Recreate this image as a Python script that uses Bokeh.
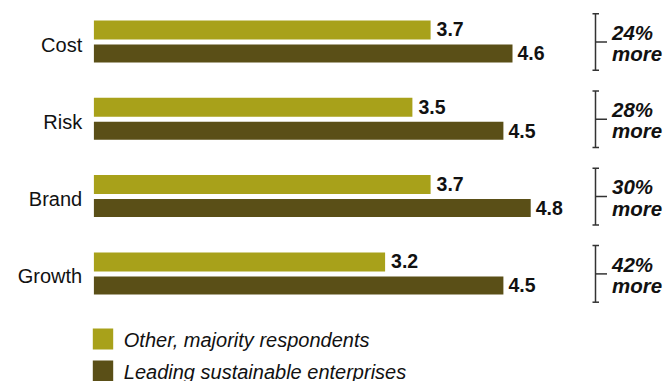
from bokeh.plotting import figure
from bokeh.models import Range1d
from bokeh.core.properties import value
from bokeh.embed import file_html
from bokeh.resources import INLINE

# ---- data ----
categories = ["Cost", "Risk", "Brand", "Growth"]
other_majority = [3.7, 3.5, 3.7, 3.2]
leading_sustainable = [4.6, 4.5, 4.8, 4.5]
pct_more = ["24%", "28%", "30%", "42%"]
series_names = ["Other, majority respondents", "Leading sustainable enterprises"]
series_colors = ["#A8A11A", "#5A4F17"]

# ---- layout helpers ----
W, H = 668, 381
X0 = 93.4      # screen px of value 0
PPU = 91.0     # px per unit


def xv(px):
    return (px - X0) / PPU


CAT_TOP, CAT_STEP = 41.5, 77.3
centers = [CAT_TOP + i * CAT_STEP for i in range(len(categories))]
light_y = [c - 12.0 for c in centers]
dark_y = [c + 11.5 for c in centers]

FONT = value("Liberation Sans")
TXT = "#111111"

p = figure(width=W, height=H, x_range=Range1d(xv(0), xv(W)), y_range=Range1d(H, 0),
           output_backend="svg", toolbar_location=None, min_border=0,
           x_axis_location=None, y_axis_location=None)
p.grid.visible = False
p.outline_line_color = None
p.background_fill_color = "white"
p.border_fill_color = "white"

# bars
p.hbar(y=light_y, left=0, right=other_majority, height=19,
       fill_color=series_colors[0], line_color=None)
p.hbar(y=dark_y, left=0, right=leading_sustainable, height=18,
       fill_color=series_colors[1], line_color=None)

# value labels
p.text(x=other_majority, y=[y - 0.8 for y in light_y],
       text=[f"{v:.1f}" for v in other_majority], x_offset=6,
       text_align="left", text_baseline="middle", text_font=FONT,
       text_font_style="bold", text_font_size="19.5px", text_color=TXT)
p.text(x=leading_sustainable, y=[y - 0.3 for y in dark_y],
       text=[f"{v:.1f}" for v in leading_sustainable], x_offset=5,
       text_align="left", text_baseline="middle", text_font=FONT,
       text_font_style="bold", text_font_size="19.5px", text_color=TXT)

# category labels
p.text(x=[xv(81.7)] * len(categories), y=[c + 2.5 for c in centers], text=categories,
       text_align="right", text_baseline="middle", text_font=FONT,
       text_font_size="20px", text_color=TXT)

# brackets
BX, HALF = 595, 28.3
p.segment(x0=[xv(BX)] * 4, x1=[xv(BX)] * 4, y0=[c - HALF for c in centers],
          y1=[c + HALF for c in centers], line_color="#333333", line_width=1.5)
p.segment(x0=[xv(BX - 3)] * 8, x1=[xv(BX + 3.5)] * 8,
          y0=[c - HALF for c in centers] + [c + HALF for c in centers],
          y1=[c - HALF for c in centers] + [c + HALF for c in centers],
          line_color="#333333", line_width=1.5)
p.segment(x0=[xv(BX)] * 4, x1=[xv(BX + 11.5)] * 4, y0=centers, y1=centers,
          line_color="#333333", line_width=1.5)

# percent labels
p.text(x=[xv(611.5)] * 4, y=[c - 9.8 for c in centers], text=pct_more,
       text_align="left", text_baseline="middle", text_font=FONT,
       text_font_style="bold italic", text_font_size="20.5px", text_color=TXT)
p.text(x=[xv(611.5)] * 4, y=[c + 11.5 for c in centers], text=["more"] * 4,
       text_align="left", text_baseline="middle", text_font=FONT,
       text_font_style="bold italic", text_font_size="20.5px", text_color=TXT)

# legend (manual)
leg_top = [328.0, 360.0]
p.quad(left=[xv(92.3)] * 2, right=[xv(112.7)] * 2, top=leg_top,
       bottom=[t + 21 for t in leg_top], fill_color=series_colors, line_color=None)
p.text(x=[xv(123.3)] * 2, y=[t + 11.5 for t in leg_top], text=series_names,
       text_align="left", text_baseline="middle", text_font=FONT,
       text_font_style="italic", text_font_size="20px", text_color=TXT)

open("out.html", "w").write(file_html(p, INLINE))
